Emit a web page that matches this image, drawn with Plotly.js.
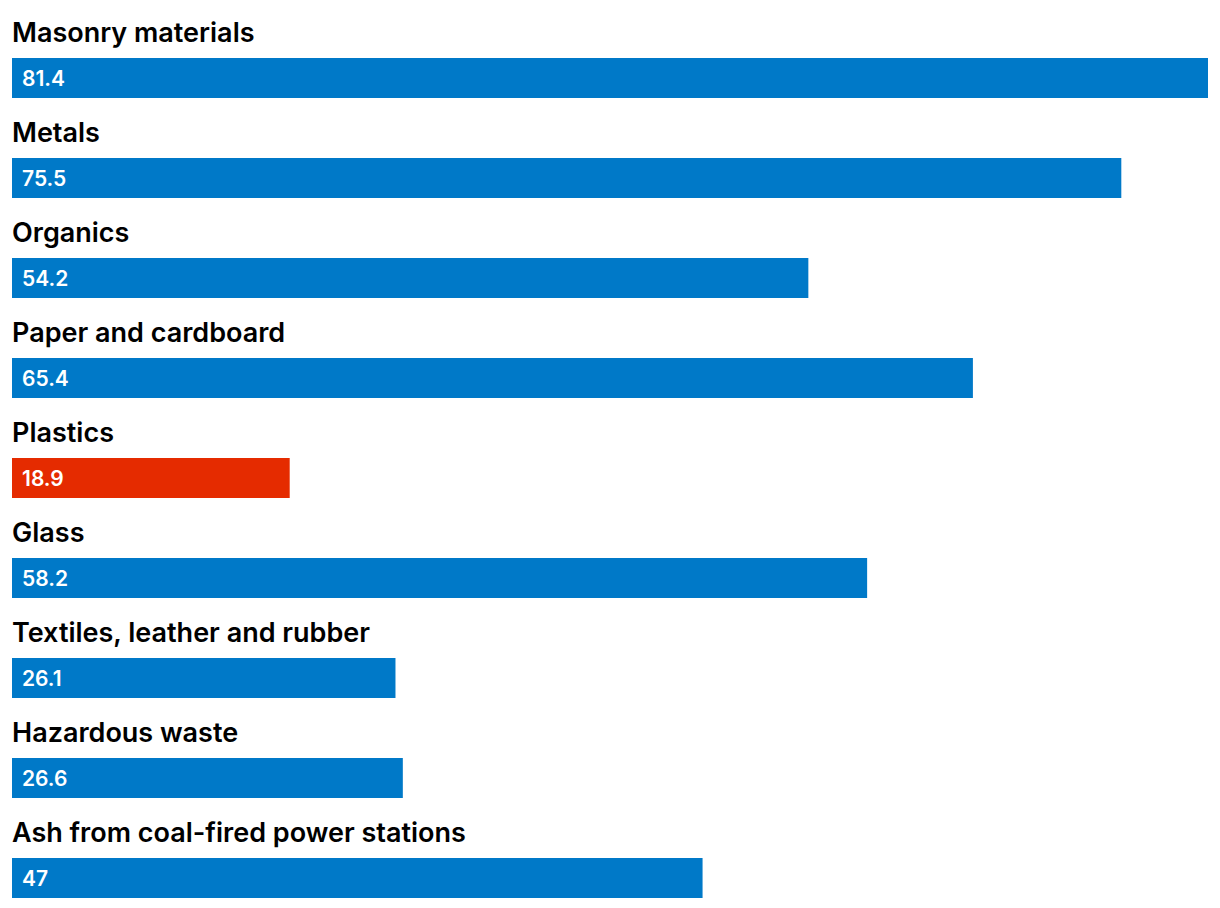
<!DOCTYPE html>
<html>
<head>
<meta charset="utf-8">
<script src="https://cdn.plot.ly/plotly-3.0.1.min.js"></script>
<style>html,body{margin:0;padding:0;background:#fff;}#chart{width:1220px;height:908px;}</style>
</head>
<body>
<div id="chart"></div>
<script>
const categories = ["Masonry materials","Metals","Organics","Paper and cardboard","Plastics","Glass","Textiles, leather and rubber","Hazardous waste","Ash from coal-fired power stations"];
const values = [81.4, 75.5, 54.2, 65.4, 18.9, 58.2, 26.1, 26.6, 47];
const valueLabels = ["81.4","75.5","54.2","65.4","18.9","58.2","26.1","26.6","47"];
const highlight = "Plastics";

const blue = "#0079C8", red = "#E52B00";
const colors = categories.map(c => c === highlight ? red : blue);
const FONT = "Inter, 'Open Sans', sans-serif";

const trace = {
  type: "bar",
  orientation: "h",
  x: values,
  y: categories,
  width: 0.4,
  marker: {color: colors},
  hoverinfo: "skip"
};

const annotations = [];
categories.forEach((c, i) => {
  annotations.push({
    x: 0, y: c, xref: "x", yref: "y",
    text: c, showarrow: false, xanchor: "left", yanchor: "middle",
    yshift: 46, xshift: -2,
    font: {family: FONT, size: 27, color: "#000", weight: 600}
  });
  annotations.push({
    x: 0, y: c, xref: "x", yref: "y",
    text: valueLabels[i], showarrow: false, xanchor: "left", yanchor: "middle",
    xshift: 8, yshift: 0,
    font: {family: FONT, size: 21, color: "#fff", weight: 600}
  });
});

const layout = {
  width: 1220, height: 908,
  margin: {l: 12, r: 12, t: 0, b: 0, pad: 0},
  paper_bgcolor: "#fff", plot_bgcolor: "#fff",
  showlegend: false,
  xaxis: {range: [0, 81.4], visible: false, fixedrange: true},
  yaxis: {type: "category", categoryorder: "array", categoryarray: categories,
          range: [8.3, -0.78], visible: false, fixedrange: true},
  annotations: annotations
};

Plotly.newPlot("chart", [trace], layout, {displayModeBar: false, staticPlot: true});
</script>
</body>
</html>
